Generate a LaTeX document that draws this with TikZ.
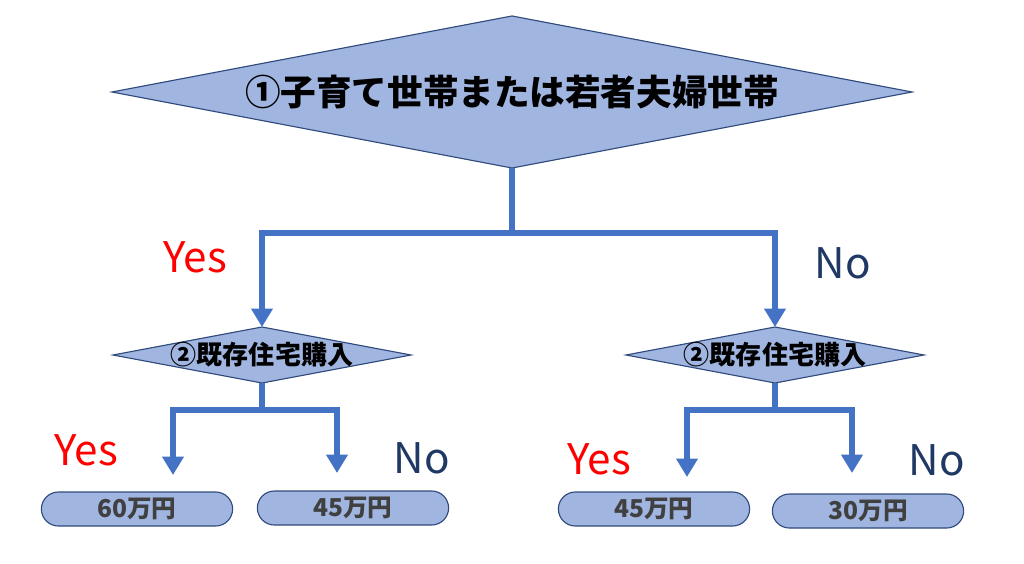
\documentclass[tikz,border=0pt]{standalone}
\usepackage{fontspec}
\setmainfont{Noto Sans CJK JP}
\usetikzlibrary{arrows.meta,shapes.geometric,shapes.misc}
\definecolor{boxfill}{HTML}{A0B5E0}
\definecolor{boxline}{HTML}{2F4A7C}
\definecolor{linkblue}{HTML}{4472C4}
\definecolor{noblue}{HTML}{1F3864}
\definecolor{pilltext}{HTML}{404040}

\begin{document}
\begin{tikzpicture}[x=0.025cm, y=-0.025cm,
		choice/.style = {diamond, draw=boxline, fill=boxfill, line width=0.8pt, inner sep=0pt, outer sep=0pt},
		amount/.style = {rounded rectangle, draw=boxline, fill=boxfill, line width=0.8pt, minimum width=4.78cm, minimum height=0.85cm, inner sep=0pt, text=pilltext, font=\bfseries\fontsize{17.5}{17.5}\selectfont},
		link/.style = {draw=linkblue, line width=3.6pt, -{Triangle[width=0.52cm, length=0.46cm]}},
		yes/.style = {text=red, font=\fontsize{30}{30}\selectfont},
		no/.style = {text=noblue, font=\fontsize{30}{30}\selectfont}]
	\useasboundingbox (0,0) rectangle (1024,564);
		% questions
		\node[choice, minimum width=20cm, minimum height=3.8cm,
			label={center:\bfseries\fontsize{25.3}{25.3}\selectfont ①子育て世帯または若者夫婦世帯}] (Q1) at (512,92) {};
		\node[choice, minimum width=7.45cm, minimum height=1.4cm,
			label={center:\bfseries\fontsize{18.5}{18.5}\selectfont ②既存住宅購入}] (Q2a) at (262,355) {};
		\node[choice, minimum width=7.45cm, minimum height=1.4cm,
			label={center:\bfseries\fontsize{18.5}{18.5}\selectfont ②既存住宅購入}] (Q2b) at (775,355) {};
		% results
		\node[amount] (R1) at (137,509) {60万円};
		\node[amount] (R2) at (353,508) {45万円};
		\node[amount] (R3) at (654,509) {45万円};
		\node[amount] (R4) at (868,511) {30万円};
		% branch points
		\coordinate (J1) at (512,233);
		\coordinate (J2) at (262,410);
		\coordinate (J3) at (775,410);
		\coordinate (A1) at (173,475);
		\coordinate (A2) at (337,473);
		\coordinate (A3) at (687,477);
		\coordinate (A4) at (852,473);
		\draw[link] (Q1.south) -- (J1) -| (Q2a.north);
		\draw[link] (J1) -| (Q2b.north);
		\draw[link] (Q2a.south) -- (J2) -| (A1);
		\draw[link] (J2) -| (A2);
		\draw[link] (Q2b.south) -- (J3) -| (A3);
		\draw[link] (J3) -| (A4);
		% answers
		\node[yes] (Y1) at (195,257) {Yes};
		\node[no] (N1) at (843,263) {No};
		\node[yes] (Y2) at (86,450) {Yes};
		\node[no] (N2) at (422,458) {No};
		\node[yes] (Y3) at (599,459) {Yes};
		\node[no] (N3) at (937,460) {No};
	\end{tikzpicture}
\end{document}
